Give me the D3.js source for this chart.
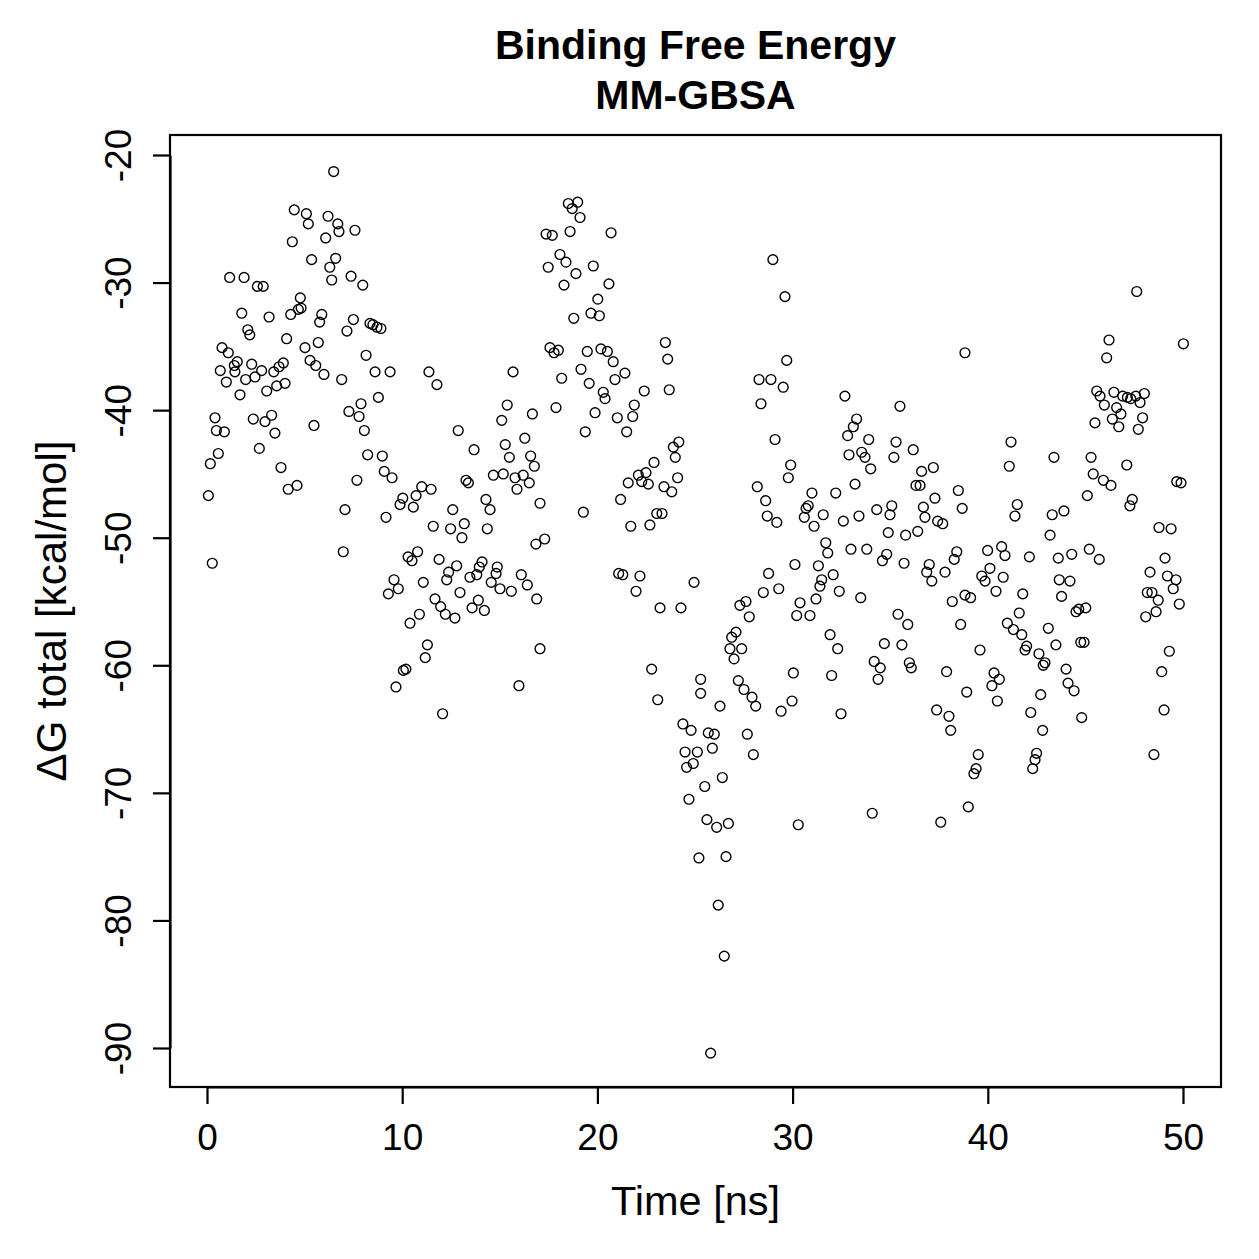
<!DOCTYPE html>
<html><head><meta charset="utf-8">
<script src="https://cdn.jsdelivr.net/npm/d3@7"></script>
<style>html,body{margin:0;padding:0;background:#fff}</style>
</head><body>
<svg id="chart" width="1259" height="1259"></svg>
<script>
const xTicks=[0,10,20,30,40,50];
const yTicks=[-20,-30,-40,-50,-60,-70,-80,-90];
const titleLines=["Binding Free Energy","MM-GBSA"];
const xLabel="Time [ns]";
const yLabel="ΔG total [kcal/mol]";

// [time (ns), ΔG total (kcal/mol)]
const segA=[[6.49,-21.3],[4.47,-24.3],[5.09,-24.6],[5.19,-25.4],[6.20,-24.8],[6.70,-25.4],[6.76,-26.0],[7.58,-25.9],[6.08,-26.5],[4.37,-26.8],
[5.36,-28.2],[6.59,-28.1],[6.29,-28.8],[6.39,-29.8],[7.38,-29.5],[7.98,-30.2],[1.16,-29.6],[1.90,-29.6],[2.58,-30.3],[2.88,-30.3],
[4.78,-31.2],[4.82,-32.0],[4.68,-32.1],[4.29,-32.5],[5.88,-32.5],[5.77,-33.1],[1.78,-32.4],[3.18,-32.7],[7.50,-32.9],[7.17,-33.8],
[8.35,-33.2],[8.50,-33.3],[8.71,-33.5],[8.91,-33.6],[2.09,-33.7],[2.19,-34.1],[4.08,-34.4],[5.70,-34.7],[5.02,-35.1],[0.77,-35.1],
[1.09,-35.5],[1.55,-36.2],[1.40,-36.5],[0.68,-36.9],[1.43,-37.0],[2.29,-36.4],[2.80,-36.9],[3.42,-37.0],[3.69,-36.6],[3.91,-36.3],
[5.28,-36.1],[5.57,-36.5],[5.99,-37.2],[6.90,-37.6],[0.99,-37.8],[1.98,-37.6],[2.46,-37.4],[3.06,-38.5],[3.57,-38.1],[4.00,-37.9],
[1.69,-38.8],[8.15,-35.7],[8.61,-37.0],[7.89,-39.5],
[0.41,-40.6],[0.48,-41.6],[0.89,-41.7],[2.37,-40.7],[2.97,-40.9],[3.31,-40.4],[3.48,-41.8],[5.48,-41.2],[2.68,-43.0],[0.58,-43.4],
[0.17,-44.2],[3.79,-44.5],[4.16,-46.2],[4.61,-45.9],[0.07,-46.7],[0.27,-52.0],[7.27,-40.1],[7.79,-40.5],[8.06,-41.6],[8.23,-43.5],
[7.68,-45.5],[7.07,-47.8],[6.98,-51.1]];

const segB=[[9.38,-37.0],[11.37,-37.0],[11.78,-38.0],[15.68,-37.0],[8.78,-39.0],[15.38,-39.6],[15.10,-40.8],[16.67,-40.3],[12.87,-41.6],[13.68,-43.1],
[15.28,-42.7],[16.28,-42.2],[15.49,-43.7],[16.58,-43.6],[16.77,-44.4],[8.98,-43.6],[9.08,-44.8],[9.48,-45.3],[14.67,-45.1],[15.18,-45.0],
[15.78,-45.3],[16.20,-45.1],[16.51,-45.7],[15.88,-46.2],[13.27,-45.5],[13.39,-45.7],[11.00,-46.0],[11.48,-46.2],[10.03,-46.9],[10.71,-46.7],
[9.89,-47.4],[10.57,-47.6],[14.29,-47.0],[14.50,-47.8],[12.59,-47.8],[17.06,-47.3],[9.17,-48.4],[13.18,-48.9],[11.59,-49.1],[12.48,-49.3],[14.36,-49.3],
[13.06,-50.0],[16.85,-50.5],[10.79,-51.1],[10.30,-51.5],[10.50,-51.8],[11.89,-51.7],[12.79,-52.2],[12.38,-52.7],[12.28,-53.3],[14.09,-51.9],
[13.95,-52.3],[14.87,-52.3],[14.81,-52.8],[13.82,-52.9],[13.47,-53.1],[14.56,-53.5],[15.01,-54.0],[15.59,-54.2],[16.10,-52.9],[16.41,-53.7],
[16.89,-54.8],[9.58,-53.3],[9.80,-54.0],[9.29,-54.4],[11.08,-53.5],[12.96,-54.3],[11.68,-54.8],[11.97,-55.4],[12.21,-56.0],[12.70,-56.3],
[13.90,-54.9],[13.58,-55.5],[14.21,-55.7],[10.88,-56.0],[10.40,-56.7],[11.29,-58.4],[11.18,-59.4],[10.19,-60.3],[10.06,-60.4],[9.68,-61.7],
[15.98,-61.6],[17.06,-58.7],[12.07,-63.8]];

const segC=[[18.51,-23.8],[18.99,-23.7],[18.71,-24.2],[19.11,-24.9],[17.37,-26.2],[17.69,-26.3],[18.60,-26.0],[20.70,-26.1],[18.08,-27.8],[18.39,-28.4],
[17.48,-28.8],[18.90,-29.3],[19.79,-28.7],[18.29,-30.2],[20.59,-30.1],[20.02,-31.3],[19.67,-32.4],[20.10,-32.6],[18.79,-32.8],[17.57,-35.1],
[18.00,-35.3],[17.78,-35.5],[19.48,-35.4],[20.18,-35.2],[20.51,-35.4],[20.81,-36.2],[23.48,-34.7],[23.60,-36.0],[19.16,-36.8],[18.17,-37.5],
[20.90,-37.6],[21.41,-37.1],[19.58,-37.9],[20.30,-38.6],[20.39,-39.1],[22.40,-38.5],[23.68,-38.4],[17.88,-39.8],[19.88,-40.2],[21.02,-40.6],
[21.89,-39.6],[21.81,-40.5],[19.38,-41.7],[21.50,-41.7],[24.17,-42.5],[23.89,-42.9],[23.99,-43.7],[22.90,-44.1],
[19.28,-48.0],[17.30,-50.1],[21.58,-45.7],[22.10,-45.1],[22.49,-44.9],[22.27,-45.6],[22.61,-45.8],[23.41,-46.0],[23.81,-46.4],[24.11,-45.3],
[21.19,-47.0],[23.04,-48.1],[23.31,-48.1],[21.71,-49.1],[22.69,-49.0],[21.09,-52.8],[21.30,-52.9],[22.18,-53.0],[21.98,-54.2],[23.21,-55.5],
[24.28,-55.5],[24.95,-53.5],[22.78,-60.3],[23.09,-62.7],[25.29,-61.1],[25.29,-62.2],[24.38,-64.6]];

const segD=[[29.70,-36.1],[28.28,-37.6],[28.89,-37.6],[29.52,-38.2],[28.38,-39.5],[29.10,-42.3],[29.90,-44.3],[29.78,-45.3],[28.19,-46.0],[28.62,-47.1],
[28.70,-48.3],[29.19,-48.8],[30.12,-52.1],[28.77,-52.8],[29.29,-54.0],[28.50,-54.3],[27.61,-55.0],[27.30,-55.3],[27.78,-56.2],[30.38,-55.1],
[30.21,-56.1],[27.10,-57.4],[26.88,-57.8],[26.79,-58.7],[27.39,-58.7],[27.00,-59.5],[27.22,-61.2],[27.51,-61.9],[27.92,-62.5],[30.04,-60.6],
[29.97,-62.8],[28.99,-28.2],[29.61,-31.1],
[28.11,-63.2],[26.28,-63.2],[29.41,-63.6],[24.80,-65.1],[25.68,-65.3],[25.99,-65.4],[27.68,-65.4],[24.49,-66.8],[25.12,-66.8],[25.89,-66.5],
[27.99,-67.0],[24.57,-68.0],[24.91,-67.7],[26.40,-68.8],[25.50,-69.5],[24.69,-70.5],[25.61,-72.1],[26.11,-72.7],[26.71,-72.4],[30.29,-72.5],
[25.20,-75.1],[26.59,-75.0],[26.19,-78.8],[26.50,-82.8],[25.80,-90.4]];

const segE=[[32.68,-38.9],[35.50,-39.7],[33.28,-40.7],[33.11,-41.3],[32.82,-42.0],[33.90,-42.3],[35.30,-42.5],[36.18,-43.1],[32.89,-43.5],[33.54,-43.3],
[33.71,-43.7],[35.19,-43.7],[34.00,-44.6],[36.61,-44.8],[37.21,-44.5],[36.32,-45.9],[36.53,-45.9],[33.20,-45.8],[30.99,-46.5],[32.21,-46.5],
[30.80,-47.5],[30.69,-47.7],[30.60,-48.4],[31.57,-48.2],[31.10,-49.1],[32.60,-48.7],[33.40,-48.3],[34.31,-47.8],[35.08,-47.5],[34.99,-48.2],
[37.29,-46.9],[36.70,-47.6],[36.78,-48.4],[38.49,-46.3],[38.69,-47.7],[37.43,-48.7],[37.69,-48.9],[34.90,-49.6],[35.79,-49.8],[36.41,-49.5],
[31.70,-50.4],[31.80,-51.2],[32.99,-50.9],[33.80,-50.9],[34.82,-51.3],[34.60,-51.8],[35.71,-52.0],[31.32,-52.2],[32.08,-52.9],[31.49,-53.3],
[31.40,-53.8],[32.39,-54.2],[31.20,-54.8],[33.49,-54.7],[37.00,-52.1],[36.87,-52.7],[37.13,-53.4],[37.81,-52.7],[38.41,-51.1],[38.28,-51.7],
[38.18,-55.0],[38.83,-54.5],[35.40,-56.0],
[30.89,-56.1],[35.90,-56.8],[38.61,-56.8],[31.92,-57.6],[32.31,-58.7],[34.70,-58.3],[35.60,-58.4],[34.18,-59.7],[34.49,-60.2],[34.38,-61.1],
[35.98,-59.8],[36.08,-60.2],[37.89,-60.5],[32.00,-60.8],[38.92,-62.1],[32.48,-63.8],[37.38,-63.5],[38.01,-64.0],[38.10,-65.1],[39.00,-71.1],
[34.08,-71.6],[37.59,-72.3],[39.29,-68.5],[39.40,-68.1]];

const segF=[[47.63,-30.7],[46.21,-34.5],[46.09,-35.9],[50.02,-34.8],[38.83,-35.5],[45.58,-38.5],[45.75,-38.9],[46.46,-38.6],[46.91,-38.9],[47.15,-39.0],
[47.32,-39.1],[47.58,-38.9],[48.02,-38.7],[47.80,-39.4],[45.97,-39.6],[46.60,-39.8],[46.82,-40.3],[46.38,-40.7],[47.93,-40.6],[45.49,-41.0],
[46.71,-41.3],[47.71,-41.5],[41.19,-42.5],[41.10,-44.4],[43.39,-43.7],[45.29,-43.7],[47.12,-44.3],[45.40,-45.0],[45.92,-45.5],[46.31,-45.9],
[45.10,-46.7],[49.68,-45.6],[49.90,-45.7],[41.51,-47.4],[41.39,-48.3],[43.30,-48.2],[43.90,-47.9],[47.40,-47.0],[47.28,-47.5],[43.19,-49.8],
[48.77,-49.2],[49.39,-49.3],[39.99,-51.0],[40.71,-50.7],[40.88,-51.4],[42.13,-51.5],[43.61,-51.6],[44.30,-51.3],[45.20,-50.9],[45.71,-51.7],
[49.08,-51.6],
[48.31,-52.7],[49.20,-53.0],[49.64,-53.3],[49.50,-54.0],[49.81,-55.2],[48.17,-54.3],[48.41,-54.3],[48.73,-54.9],[48.62,-55.8],[48.09,-56.2],
[40.11,-52.4],[39.69,-53.0],[39.86,-53.4],[40.79,-53.1],[40.42,-54.2],[41.79,-54.4],[39.12,-54.7],[43.66,-53.3],[44.21,-53.4],[43.78,-54.6],
[41.61,-55.9],[41.00,-56.7],[41.31,-57.2],[41.74,-57.6],[43.10,-57.1],[44.52,-55.8],[44.66,-55.6],[45.02,-55.5],[41.99,-58.5],[41.91,-58.8],
[42.62,-59.1],[42.93,-59.8],[42.84,-60.0],[43.49,-58.4],[44.76,-58.2],[44.93,-58.2],[39.60,-58.8],[49.30,-58.9],[44.01,-60.3],[44.11,-61.4],
[44.42,-62.0],[40.32,-60.6],[40.59,-61.1],[40.21,-61.6],[40.49,-62.8],[42.71,-62.3],[48.91,-60.5],[42.20,-63.7],[44.81,-64.1],[42.81,-65.1],
[49.03,-63.5],[48.51,-67.0],[39.51,-67.0],[42.50,-66.9],[42.42,-67.4],[42.30,-68.1]];

const data=[].concat(segA,segB,segC,segD,segE,segF);

const FONT='"Liberation Sans", Arial, Helvetica, sans-serif';
const svg=d3.select("#chart");
const box={left:170,top:135,right:1221,bottom:1087};
const x=d3.scaleLinear().domain([0,50]).range([207,1183]);
const y=d3.scaleLinear().domain([-20,-90]).range([155,1048]);

// points
svg.append("g").selectAll("circle").data(data).join("circle")
  .attr("cx",d=>x(d[0])).attr("cy",d=>y(d[1])).attr("r",4.9)
  .attr("fill","none").attr("stroke","#000").attr("stroke-width",1.4);

// box
svg.append("rect").attr("x",box.left).attr("y",box.top)
  .attr("width",box.right-box.left).attr("height",box.bottom-box.top)
  .attr("fill","none").attr("stroke","#000").attr("stroke-width",2.2);

// x axis
const gx=svg.append("g").attr("transform",`translate(0,${box.bottom})`)
  .call(d3.axisBottom(x).tickValues(xTicks).tickSize(17).tickSizeOuter(0).tickPadding(20).tickFormat(d3.format("d")));
gx.select(".domain").attr("stroke-width",2.2);
gx.selectAll(".tick line").attr("stroke-width",2.2);
gx.selectAll(".tick text").attr("font-family",FONT).attr("font-size",37).attr("fill","#000");

// y axis
const gy=svg.append("g").attr("transform",`translate(${box.left},0)`)
  .call(d3.axisLeft(y).tickValues(yTicks).tickSize(17).tickSizeOuter(0).tickFormat(d=>String(d).replace("−","-")));
gy.select(".domain").attr("stroke-width",2.2);
gy.selectAll(".tick line").attr("stroke-width",2.2);
gy.selectAll(".tick text").attr("font-family",FONT).attr("font-size",37).attr("fill","#000")
  .attr("transform","rotate(-90)").attr("x",0).attr("y",-39).attr("dy",0).attr("text-anchor","middle");

// titles
const tg=svg.append("g").attr("font-family",FONT).attr("font-weight","bold").attr("font-size",41).attr("text-anchor","middle");
tg.selectAll("text").data(titleLines).join("text")
  .attr("x",(box.left+box.right)/2).attr("y",(d,i)=>59+i*50).text(d=>d);

svg.append("text").attr("x",(box.left+box.right)/2).attr("y",1215)
  .attr("text-anchor","middle").attr("font-family",FONT).attr("font-size",41.5).text(xLabel);

svg.append("text").attr("transform",`translate(66,${(box.top+box.bottom)/2}) rotate(-90)`)
  .attr("text-anchor","middle").attr("font-family",FONT).attr("font-size",42).text(yLabel);
</script>
</body></html>
